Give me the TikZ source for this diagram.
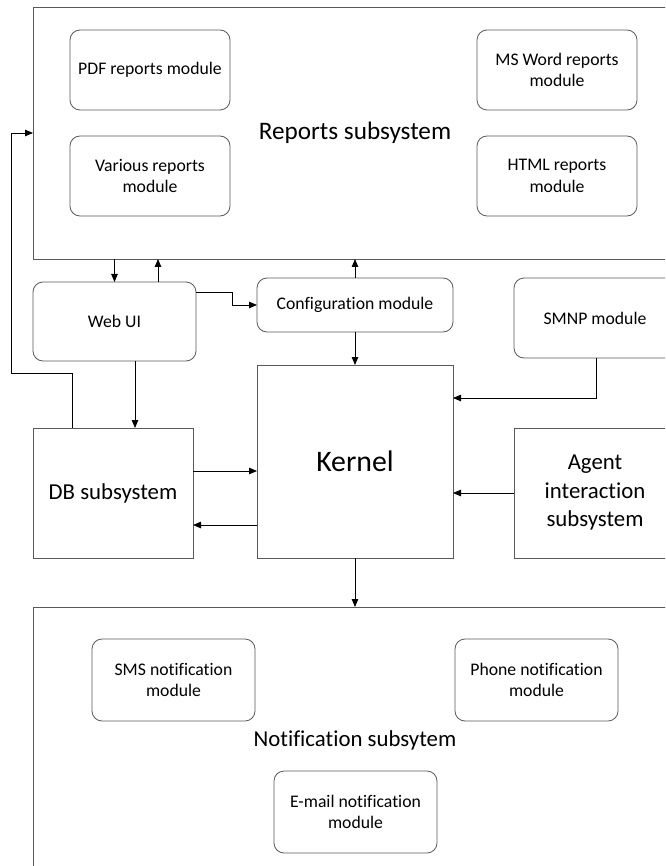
\documentclass[tikz,border=0pt]{standalone}
\usepackage{fontspec}
\setmainfont{Carlito}[Ligatures=NoCommon]
\usetikzlibrary{arrows.meta}
\begin{document}
\begin{tikzpicture}[x=1pt,y=-1pt,
  box/.style={draw=black!65, line width=0.8pt, inner sep=0pt, outer sep=0pt, align=center},
  rbox/.style={box, rounded corners=10pt},
  modfont/.style={font=\fontsize{17.7}{21.5}\selectfont},
  midfont/.style={font=\fontsize{22.8}{28.5}\selectfont},
  arr/.style={draw=black, line width=0.8pt, -{Triangle[length=8pt,width=6.5pt]}},
  txt/.style={inner sep=0pt, outer sep=0pt, align=center}]
\useasboundingbox (0,0) rectangle (665,866);
\clip (0,0) rectangle (665,866);
% Reports subsystem
\node[box, minimum width=644pt, minimum height=252pt] (reports) at (355,133) {};
\node[txt, font=\fontsize{25.2}{30}\selectfont] (reportslbl) at (355,133) {Reports subsystem};
\node[rbox, modfont, minimum width=160pt, minimum height=80pt] (pdf) at (150,70) {PDF reports module};
\node[rbox, modfont, minimum width=160pt, minimum height=80pt] (various) at (150,176) {Various reports\\module};
\node[rbox, modfont, minimum width=160pt, minimum height=80pt] (msword) at (557,70) {MS Word reports\\module};
\node[rbox, modfont, minimum width=160pt, minimum height=80pt] (html) at (557,176) {HTML reports\\module};
% middle
\node[rbox, modfont, minimum width=163pt, minimum height=79pt] (webui) at (114.5,321.5) {Web UI};
\node[rbox, modfont, minimum width=196pt, minimum height=54pt] (config) at (355,305) {Configuration module};
\node[rbox, modfont, minimum width=162pt, minimum height=80pt] (smnp) at (595,318) {SMNP module};
\node[box, midfont, minimum width=160pt, minimum height=130pt] (db) at (113,493) {DB subsystem};
\node[box, font=\fontsize{29.8}{36}\selectfont, minimum width=196pt, minimum height=193pt] (kernel) at (355,461.5) {Kernel};
\node[box, midfont, minimum width=162pt, minimum height=130pt] (agent) at (595,493) {Agent\\interaction\\subsystem};
% Notification subsystem
\node[box, minimum width=644pt, minimum height=300pt] (notif) at (355,757) {};
\node[txt, midfont] (notiflbl) at (355,740) {Notification subsytem};
\node[rbox, modfont, minimum width=163pt, minimum height=82pt] (sms) at (173.5,680) {SMS notification\\module};
\node[rbox, modfont, minimum width=163pt, minimum height=82pt] (phone) at (536.5,680) {Phone notification\\module};
\node[rbox, modfont, minimum width=163pt, minimum height=82pt] (email) at (355.5,812) {E-mail notification\\module};
% helper coordinates
\coordinate (fbx) at (11,373);
\coordinate (wc) at (232,292);
\coordinate (sk) at (596,398);
% connectors
\draw[arr] ([xshift=39pt]db.north west) |- (fbx) |- (reports.west);
\draw[arr] (reports.south -| webui.north) -- (webui.north);
\draw[arr] ([xshift=43.5pt]webui.north) -- ([xshift=43.5pt]webui.north |- reports.south);
\draw[arr] (webui.east |- wc) -- (wc) |- (config.west);
\draw[arr] (config.north) -- (config.north |- reports.south);
\draw[arr] (config.south) -- (kernel.north);
\draw[arr] ([xshift=20.5pt]webui.south) -- ([xshift=20.5pt]webui.south |- db.north);
\draw[arr] (smnp.south -| sk) |- (kernel.east |- sk);
\draw[arr] ([yshift=22pt]db.east) -- ([yshift=22pt]db.east -| kernel.west);
\draw[arr] ([yshift=-32pt]db.east -| kernel.west) -- ([yshift=-32pt]db.east);
\draw[arr] (agent.west) -- (agent.west -| kernel.east);
\draw[arr] (kernel.south) -- (kernel.south |- notif.north);
\end{tikzpicture}
\end{document}
